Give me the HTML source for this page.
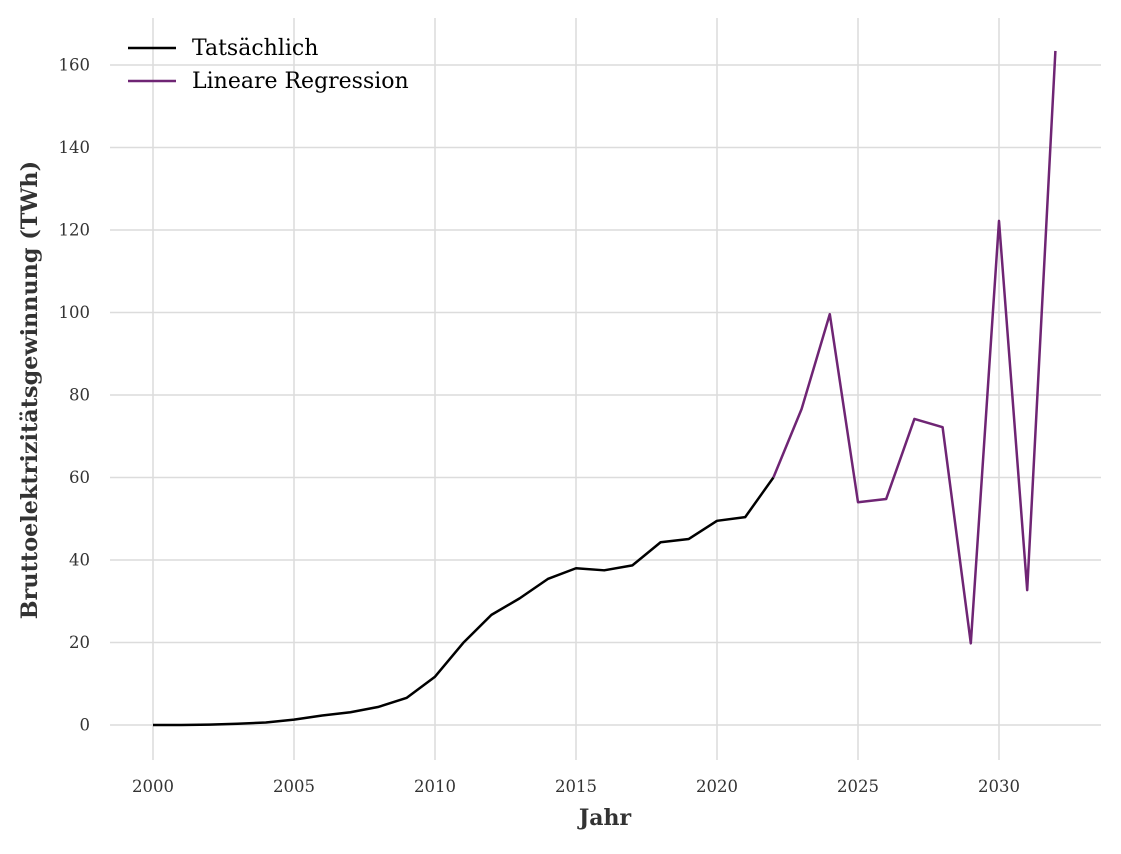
<!DOCTYPE html>
<html><head><meta charset="utf-8"><style>
body{margin:0;background:#fff}
svg text{font-family:"DejaVu Serif","Liberation Serif",serif;fill:#333}
</style></head><body>
<svg id="c" width="1121" height="849" xmlns="http://www.w3.org/2000/svg"></svg>
<script>
const actualYears=[2000,2001,2002,2003,2004,2005,2006,2007,2008,2009,2010,2011,2012,2013,2014,2015,2016,2017,2018,2019,2020,2021,2022];
const actualValues=[0,0,0.1,0.3,0.6,1.3,2.3,3.1,4.4,6.6,11.7,19.9,26.7,30.7,35.4,38.0,37.5,38.7,44.3,45.1,49.5,50.4,60];
const regYears=[2022,2023,2024,2025,2026,2027,2028,2029,2030,2031,2032];
const regValues=[60,76.6,99.6,54,54.8,74.2,72.2,19.8,122.2,32.7,163.4];
const xTicks=[2000,2005,2010,2015,2020,2025,2030];
const yTicks=[0,20,40,60,80,100,120,140,160];
const svg=document.getElementById('c');const NS='http://www.w3.org/2000/svg';
const X=v=>153+(v-2000)*(999-153)/30;
const Y=v=>725-v*(660/160);
function mk(t,a,p){const e=document.createElementNS(NS,t);for(const k in a)e.setAttribute(k,a[k]);(p||svg).appendChild(e);return e;}
const grid=mk('g',{});


xTicks.forEach(t=>{mk('line',{x1:X(t),x2:X(t),y1:18,y2:760,stroke:'#dcdcdc','stroke-width':1.5},grid);
const tx=mk('text',{x:X(t),y:792,'text-anchor':'middle','font-size':16.5});tx.textContent=t;

});
yTicks.forEach(t=>{mk('line',{x1:110,x2:1101,y1:Y(t),y2:Y(t),stroke:'#dcdcdc','stroke-width':1.5},grid);
const tx=mk('text',{x:90,y:Y(t)+5.5,'text-anchor':'end','font-size':16.5});tx.textContent=t;

});
function line(xs,ys,c,n){const p=mk('polyline',{points:xs.map((x,i)=>X(x)+','+Y(ys[i])).join(' '),fill:'none',stroke:c,'stroke-width':2.5,'stroke-linejoin':'round'});

}
line(regYears,regValues,'#6f2574','series-lineare-regression');
line(actualYears,actualValues,'#000','series-tatsaechlich');
const xt=mk('text',{x:605,y:825,'text-anchor':'middle','font-size':22,'font-weight':'bold'});xt.textContent='Jahr';


const yt=mk('text',{x:0,y:0,'text-anchor':'middle','font-size':22.3,'font-weight':'bold',transform:'translate(37,390) rotate(-90)'});yt.textContent='Bruttoelektrizitätsgewinnung (TWh)';


[['Tatsächlich','#000',48],['Lineare Regression','#6f2574',81]].forEach(([l,c,y])=>{
const g=mk('g',{});


mk('line',{x1:128,x2:176,y1:y,y2:y,stroke:c,'stroke-width':2.5},g);
const t=mk('text',{x:192,y:y+7,'font-size':22,fill:'#000'},g);t.style.fill='#000';t.textContent=l;});
</script>
</body></html>
